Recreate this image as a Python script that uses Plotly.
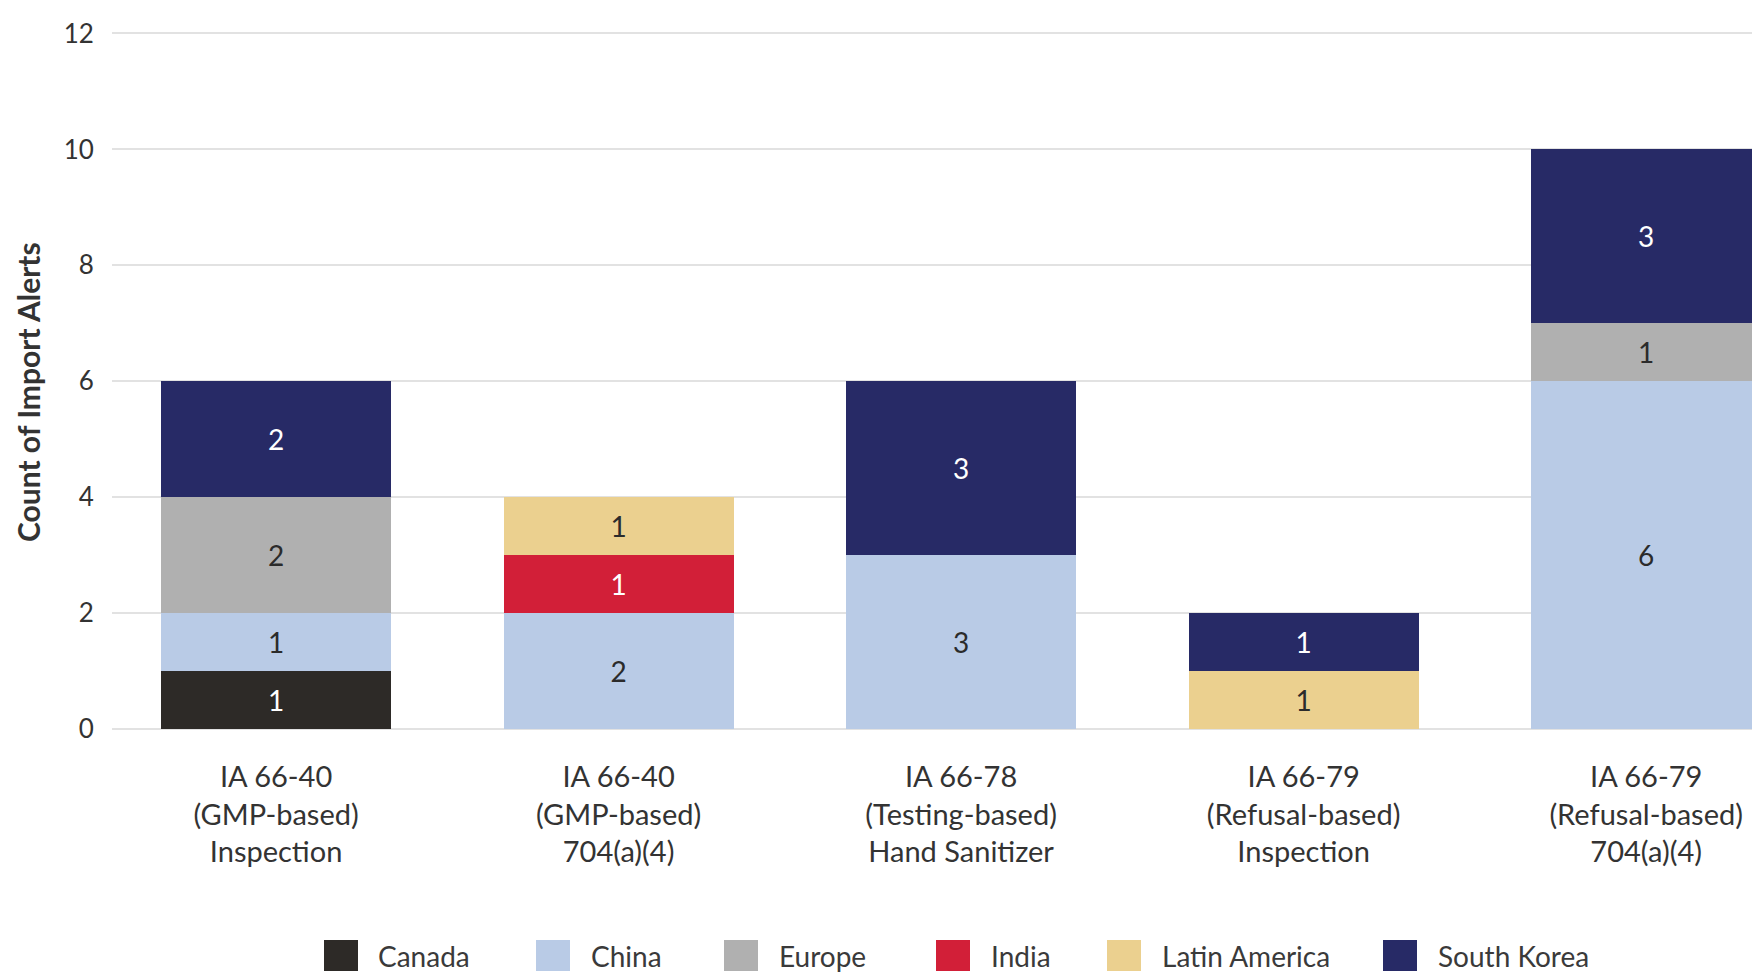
import plotly.graph_objects as go

# Import alert categories (x axis) and counts per region, stacked bottom to top
categories = [
    "IA 66-40<br>(GMP-based)<br>Inspection",
    "IA 66-40<br>(GMP-based)<br>704(a)(4)",
    "IA 66-78<br>(Testing-based)<br>Hand Sanitizer",
    "IA 66-79<br>(Refusal-based)<br>Inspection",
    "IA 66-79<br>(Refusal-based)<br>704(a)(4)",
]
canada = [1, 0, 0, 0, 0]
china = [1, 2, 3, 0, 6]
europe = [2, 0, 0, 0, 1]
india = [0, 1, 0, 0, 0]
latin_america = [0, 1, 0, 1, 0]
south_korea = [2, 0, 3, 1, 3]

regions = ["Canada", "China", "Europe", "India", "Latin America", "South Korea"]
series = [canada, china, europe, india, latin_america, south_korea]
colors = ["#2d2a27", "#b9cbe6", "#b0b0b0", "#d21f38", "#ebd08f", "#272a66"]
label_colors = ["#ffffff", "#2b2b2b", "#2b2b2b", "#ffffff", "#2b2b2b", "#ffffff"]

y_ticks = [0, 2, 4, 6, 8, 10, 12]

FONT = "Lato, 'Open Sans', sans-serif"
W, H = 1752, 973
ML, MR, MT, MB = 112, 0, 30, 244
PW, PH = W - ML - MR, H - MT - MB


def px_x(x):
    return (x - ML) / PW


def px_y(y):
    return (H - MB - y) / PH


fig = go.Figure()
for name, vals, col, tcol in zip(regions, series, colors, label_colors):
    fig.add_trace(go.Bar(
        x=categories,
        y=[v if v else None for v in vals],
        name=name,
        marker=dict(color=col, line=dict(width=0)),
        text=[str(v) if v else "" for v in vals],
        textposition="inside",
        insidetextanchor="middle",
        textangle=0,
        constraintext="none",
        textfont=dict(family=FONT, size=28, color=tcol),
        showlegend=False,
    ))

# Legend drawn as large square swatches with labels underneath the chart
legend_swatch_x = [324, 536, 724, 936, 1107, 1383]
legend_text_x = [376, 589, 777, 989, 1160, 1436]
shapes = []
annotations = []
for name, col, sx, tx in zip(regions, colors, legend_swatch_x, legend_text_x):
    shapes.append(dict(
        type="rect", xref="paper", yref="paper",
        x0=px_x(sx), x1=px_x(sx + 34), y0=px_y(971), y1=px_y(940),
        fillcolor=col, line=dict(width=0), layer="above",
    ))
    annotations.append(dict(
        text=name, xref="paper", yref="paper",
        x=px_x(tx), y=px_y(956), xanchor="left", yanchor="middle",
        showarrow=False, font=dict(family=FONT, size=28, color="#3a3a3a"),
    ))

annotations.append(dict(
    text="<b>Count of Import Alerts</b>", xref="paper", yref="paper",
    x=px_x(28), y=px_y(392), xanchor="center", yanchor="middle",
    textangle=-90, showarrow=False,
    font=dict(family=FONT, size=30, color="#333333"),
))

fig.update_layout(
    width=W, height=H,
    margin=dict(l=ML, r=MR, t=MT, b=MB, autoexpand=False),
    barmode="stack",
    bargap=0.328,
    plot_bgcolor="white",
    paper_bgcolor="white",
    shapes=shapes,
    annotations=annotations,
    xaxis=dict(
        type="category",
        range=[-0.479, 4.309],
        showgrid=False,
        showline=False,
        zeroline=False,
        ticks="outside",
        ticklen=22,
        tickcolor="rgba(0,0,0,0)",
        tickfont=dict(family=FONT, size=29, color="#333333"),
    ),
    yaxis=dict(
        range=[0, 12.06],
        tickvals=y_ticks,
        showgrid=True,
        gridcolor="#e2e2e2",
        gridwidth=2,
        zeroline=True,
        zerolinecolor="#e2e2e2",
        zerolinewidth=2,
        showline=False,
        ticks="outside",
        ticklen=12,
        tickcolor="rgba(0,0,0,0)",
        tickfont=dict(family=FONT, size=26, color="#333333"),
    ),
)

fig.write_html("out.html")
